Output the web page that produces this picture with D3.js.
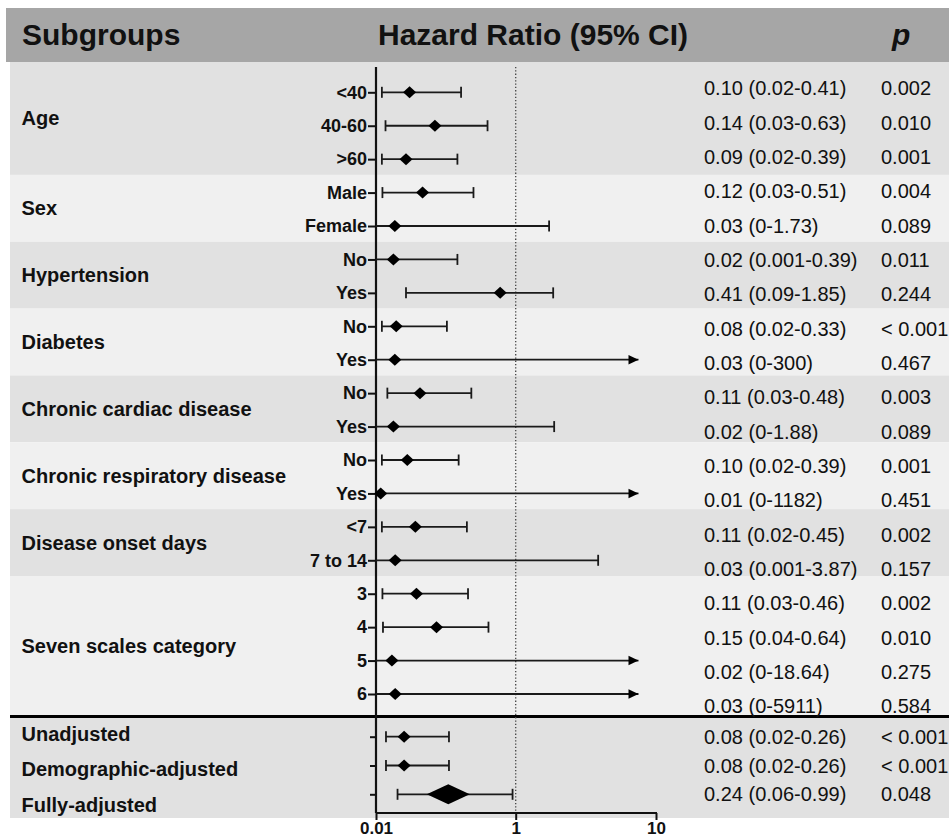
<!DOCTYPE html>
<html>
<head>
	<title> forest plot </title>
	<script src="https://d3js.org/d3.v7.min.js"></script>
	<style>
		body { margin: 0; background: #fff; }
		text { font-family: "Liberation Sans", Arial, sans-serif; fill: #111; }
	</style>
</head>
<body>
	<svg width="949" height="838"></svg>
	<script type="text/javascript">
		// subgroup data
		let groups = ["Age", "Sex", "Hypertension", "Diabetes", "Chronic cardiac disease",
		              "Chronic respiratory disease", "Disease onset days", "Seven scales category"];
		let groupRows = [3, 2, 2, 2, 2, 2, 2, 4];
		let subLabels = ["<40", "40-60", ">60", "Male", "Female", "No", "Yes", "No", "Yes",
		                 "No", "Yes", "No", "Yes", "<7", "7 to 14", "3", "4", "5", "6"];
		// values as plotted
		let hr = [0.10, 0.23, 0.086, 0.16, 0.049, 0.045, 0.81, 0.053, 0.049,
		          0.147, 0.045, 0.091, 0.017, 0.125, 0.050, 0.13, 0.24, 0.041, 0.050];
		let lo = [0.019, 0.026, 0.019, 0.020, 0, 0.001, 0.086, 0.019, 0,
		          0.030, 0, 0.019, 0, 0.019, 0.001, 0.020, 0.021, 0, 0];
		let hi = [0.42, 0.67, 0.39, 0.53, 1.73, 0.39, 1.85, 0.31, 300,
		          0.51, 1.88, 0.40, 1182, 0.47, 3.87, 0.48, 0.68, 18.64, 5911];
		let hrText = ["0.10 (0.02-0.41)", "0.14 (0.03-0.63)", "0.09 (0.02-0.39)", "0.12 (0.03-0.51)",
		              "0.03 (0-1.73)", "0.02 (0.001-0.39)", "0.41 (0.09-1.85)", "0.08 (0.02-0.33)",
		              "0.03 (0-300)", "0.11 (0.03-0.48)", "0.02 (0-1.88)", "0.10 (0.02-0.39)",
		              "0.01 (0-1182)", "0.11 (0.02-0.45)", "0.03 (0.001-3.87)", "0.11 (0.03-0.46)",
		              "0.15 (0.04-0.64)", "0.02 (0-18.64)", "0.03 (0-5911)"];
		let pText = ["0.002", "0.010", "0.001", "0.004", "0.089", "0.011", "0.244", "< 0.001", "0.467",
		             "0.003", "0.089", "0.001", "0.451", "0.002", "0.157", "0.002", "0.010", "0.275", "0.584"];

		// overall models
		let modelLabels = ["Unadjusted", "Demographic-adjusted", "Fully-adjusted"];
		let modelHr = [0.079, 0.079, 0.32];
		let modelLo = [0.027, 0.027, 0.057];
		let modelHi = [0.325, 0.325, 0.96];
		let modelHrText = ["0.08 (0.02-0.26)", "0.08 (0.02-0.26)", "0.24 (0.06-0.99)"];
		let modelP = ["< 0.001", "< 0.001", "0.048"];

		let xTicks = [0.01, 1, 10];
		let xTickLabels = ["0.01", "1", "10"];
		let clipMax = 7.5;

		let svg = d3.select("svg");

		// split axis: sqrt below 1, log above 1
		let xLow = d3.scaleSqrt().domain([0.01, 1]).range([376, 515.7]);
		let xHigh = d3.scaleLog().domain([1, 10]).range([515.7, 656]);
		function x(v) { return v <= 1 ? xLow(Math.max(v, 0.01)) : xHigh(Math.min(v, clipMax)); }

		let idx = d3.range(subLabels.length);
		let y = d3.scalePoint().domain(idx).range([92.3, 694]);
		let yText = d3.scalePoint().domain(idx).range([88.3, 706.3]);
		let mIdx = d3.range(modelLabels.length);
		let yM = d3.scalePoint().domain(mIdx).range([736.7, 794.3]);
		let yMLabel = d3.scalePoint().domain(mIdx).range([734, 804.5]);

		// bands
		let start = 0;
		groups.forEach(function(g, gi) {
			let n = groupRows[gi];
			let top = gi == 0 ? 62 : (y(start - 1) + y(start)) / 2 - 1;
			let bottom = gi == groups.length - 1 ? 716 : (y(start + n - 1) + y(start + n)) / 2 - 1;
			svg.append("rect").attr("x", 10).attr("y", top).attr("width", 939).attr("height", bottom - top)
				.attr("fill", gi % 2 == 0 ? "#e1e1e1" : "#f0f0f0");
			svg.append("text").attr("x", 21.5).attr("y", (top + bottom) / 2).attr("dy", "0.35em")
				.style("font-size", "20px").style("font-weight", "bold").text(g);
			start += n;
		});
		svg.append("rect").attr("x", 10).attr("y", 716).attr("width", 939).attr("height", 102).attr("fill", "#e1e1e1");

		// header
		svg.append("rect").attr("x", 6).attr("y", 8).attr("width", 943).attr("height", 54).attr("fill", "#a6a6a6");
		let header = svg.append("g").style("font-size", "30px").style("font-weight", "bold");
		header.append("text").attr("x", 22).attr("y", 45).text("Subgroups");
		header.append("text").attr("x", 378).attr("y", 45).text("Hazard Ratio (95% CI)");
		header.append("text").attr("x", 892).attr("y", 45).style("font-style", "italic").text("p");

		// separator
		svg.append("line").attr("x1", 10).attr("x2", 949).attr("y1", 716.5).attr("y2", 716.5)
			.attr("stroke", "#000").attr("stroke-width", 3);

		// reference line at 1
		svg.append("line").attr("x1", x(1)).attr("x2", x(1)).attr("y1", 67).attr("y2", 813)
			.attr("stroke", "#444").attr("stroke-width", 1.3).attr("stroke-dasharray", "1.3,2");

		// y axes
		let yAxis = svg.append("g").attr("transform", "translate(376,0)")
			.call(d3.axisLeft(y).tickSize(8).tickPadding(1).tickFormat(function(i) { return subLabels[i]; }));
		yAxis.selectAll("text").style("font-size", "18px").style("font-weight", "bold").style("fill", "#111");
		let yAxisM = svg.append("g").attr("transform", "translate(376,0)")
			.call(d3.axisLeft(yM).tickSize(6).tickFormat(""));
		svg.selectAll(".domain").remove();
		svg.selectAll(".tick line").attr("stroke", "#111").attr("stroke-width", 2);
		svg.append("line").attr("x1", 376).attr("x2", 376).attr("y1", 67).attr("y2", 813)
			.attr("stroke", "#111").attr("stroke-width", 2.2);

		// x axis
		let xAxisG = svg.append("g").attr("transform", "translate(0,813)");
		xAxisG.append("g").call(d3.axisBottom(xLow).tickValues(xTicks.slice(0, 2)).tickSize(7)
			.tickFormat(function(d, i) { return xTickLabels[i]; }));
		xAxisG.append("g").call(d3.axisBottom(xHigh).tickValues(xTicks.slice(2)).tickSize(7)
			.tickFormat(function() { return xTickLabels[2]; }));
		xAxisG.selectAll(".domain").remove();
		xAxisG.selectAll(".tick line").attr("stroke", "#111").attr("stroke-width", 2);
		xAxisG.selectAll("text").style("font-size", "17px").style("font-weight", "bold").style("fill", "#111")
			.attr("y", 21).attr("dy", null);
		xAxisG.append("line").attr("x1", 376).attr("x2", 657).attr("y1", 0).attr("y2", 0)
			.attr("stroke", "#111").attr("stroke-width", 2.2);

		// error bars and markers
		function drawRow(yy, h, l, u, big) {
			let g = svg.append("g").attr("stroke", "#1a1a1a").attr("stroke-width", 1.8);
			let x0 = x(l), x1 = x(u);
			g.append("line").attr("x1", x0).attr("x2", x1).attr("y1", yy).attr("y2", yy);
			if (l >= 0.01) g.append("line").attr("x1", x0).attr("x2", x0).attr("y1", yy - 5.5).attr("y2", yy + 5.5);
			if (u <= clipMax) g.append("line").attr("x1", x1).attr("x2", x1).attr("y1", yy - 5.5).attr("y2", yy + 5.5);
			else svg.append("path").attr("fill", "#000")
				.attr("d", "M" + x1 + "," + yy + "L" + (x1 - 10) + "," + (yy - 4.8) + "L" + (x1 - 10) + "," + (yy + 4.8) + "Z");
			let cx = x(h), w = big ? 21.5 : 6.5, hh = big ? 10 : 6;
			svg.append("path").attr("fill", "#000")
				.attr("d", "M" + (cx - w) + "," + yy + "L" + cx + "," + (yy - hh) + "L" + (cx + w) + "," + yy + "L" + cx + "," + (yy + hh) + "Z");
		}
		idx.forEach(function(i) { drawRow(y(i), hr[i], lo[i], hi[i], false); });
		mIdx.forEach(function(i) { drawRow(yM(i), modelHr[i], modelLo[i], modelHi[i], i == modelLabels.length - 1); });

		// right columns
		let txt = svg.append("g").style("font-size", "20px");
		idx.forEach(function(i) {
			txt.append("text").attr("x", 704).attr("y", yText(i)).attr("dy", "0.35em").text(hrText[i]);
			txt.append("text").attr("x", 881).attr("y", yText(i)).attr("dy", "0.35em").text(pText[i]);
		});
		mIdx.forEach(function(i) {
			txt.append("text").attr("x", 704).attr("y", yM(i)).attr("dy", "0.35em").text(modelHrText[i]);
			txt.append("text").attr("x", 881).attr("y", yM(i)).attr("dy", "0.35em").text(modelP[i]);
			svg.append("text").attr("x", 21.5).attr("y", yMLabel(i)).attr("dy", "0.35em")
				.style("font-size", "20px").style("font-weight", "bold").text(modelLabels[i]);
		});
	</script>
</body>
</html>
